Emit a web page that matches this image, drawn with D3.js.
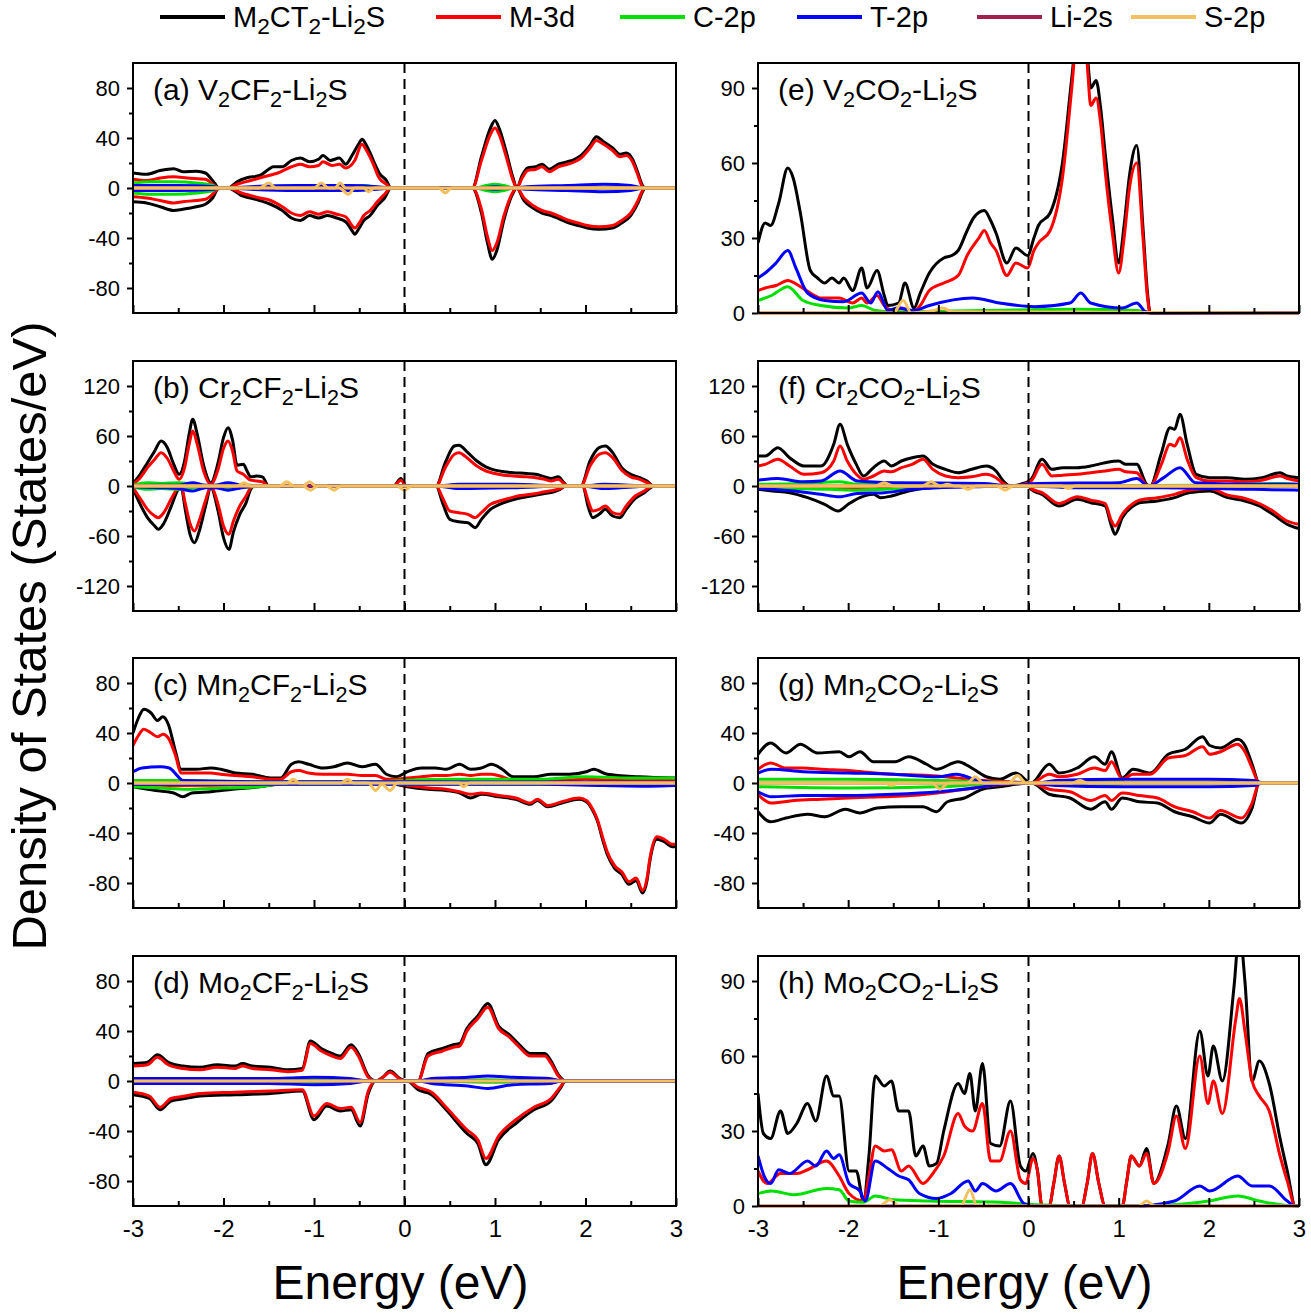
<!DOCTYPE html>
<html><head><meta charset="utf-8">
<script src="https://cdn.jsdelivr.net/npm/d3@7"></script>
<style>
body{margin:0;background:#fff}
svg{display:block}
text{font-family:"Liberation Sans",Arial,sans-serif;fill:#000}
</style></head>
<body><svg id="c" width="1311" height="1315"></svg>
<script>
// ---------- tick values ----------
const xTicks = [-3,-2,-1,0,1,2,3];
const xMinor = [-2.5,-1.5,-0.5,0.5,1.5,2.5];
const yTicks100 = [-80,-40,0,40,80];
const yMinor100 = [-60,-20,20,60];
const yTicks150 = [-120,-60,0,60,120];
const yMinor150 = [-90,-30,30,90];
const yTicksPos = [0,30,60,90];
const yMinorPos = [15,45,75];
const legendLabels = ['M_2CT_2-Li_2S','M-3d','C-2p','T-2p','Li-2s','S-2p'];
const panelLabels = ['(a) V_2CF_2-Li_2S','(b) Cr_2CF_2-Li_2S','(c) Mn_2CF_2-Li_2S','(d) Mo_2CF_2-Li_2S',
  '(e) V_2CO_2-Li_2S','(f) Cr_2CO_2-Li_2S','(g) Mn_2CO_2-Li_2S','(h) Mo_2CO_2-Li_2S'];

// ---------- data: [energy eV, DOS] ----------
const li2s = [[-3,0],[3,0]];

// (a) V2CF2-Li2S
const aTotUp = [[-3,12],[-2.85,11],[-2.7,14],[-2.55,15.5],[-2.45,13],[-2.3,13.5],[-2.2,12],[-2.1,4],[-2.05,0],[-1.95,0],[-1.85,5],[-1.75,8],[-1.6,10],[-1.5,15],[-1.45,17],[-1.35,17],[-1.25,22],[-1.15,24],[-1.05,21],[-0.95,23],[-0.9,26],[-0.82,22],[-0.72,24],[-0.65,19],[-0.58,26],[-0.5,36],[-0.47,39],[-0.42,34],[-0.38,28],[-0.32,18],[-0.28,12],[-0.2,6],[-0.15,0],[0.75,0],[0.85,25],[0.95,48],[1.0,54],[1.05,47],[1.12,30],[1.2,8],[1.24,0],[1.3,10],[1.36,16],[1.45,17],[1.52,19],[1.6,15],[1.7,19],[1.8,21],[1.88,23],[1.95,26],[2.05,34],[2.12,41],[2.2,37],[2.3,32],[2.38,27],[2.45,28],[2.52,23],[2.57,14],[2.63,2],[2.66,0],[3,0]];
const aMUp = [[-3,7],[-2.85,6],[-2.7,8],[-2.55,9],[-2.4,8],[-2.2,7],[-2.1,2],[-2.05,0],[-1.95,0],[-1.85,3],[-1.7,6],[-1.5,10],[-1.4,12],[-1.25,17],[-1.15,19],[-1.05,17],[-0.95,18],[-0.9,21],[-0.8,18],[-0.72,19],[-0.65,16],[-0.55,22],[-0.47,35],[-0.42,30],[-0.35,20],[-0.28,8],[-0.2,3],[-0.15,0],[0.75,0],[0.85,22],[0.95,43],[1.0,48],[1.05,42],[1.12,26],[1.2,6],[1.24,0],[1.3,8],[1.36,14],[1.45,15],[1.52,17],[1.6,13],[1.7,17],[1.8,19],[1.88,21],[1.95,24],[2.05,32],[2.12,38],[2.2,35],[2.3,30],[2.38,25],[2.45,26],[2.52,21],[2.57,12],[2.63,1],[2.66,0],[3,0]];
const aTotDn = [[-3,-11],[-2.85,-12],[-2.7,-15],[-2.55,-18],[-2.45,-17],[-2.3,-15],[-2.2,-13],[-2.12,-8],[-2.05,0],[-1.95,0],[-1.8,-6],[-1.6,-10],[-1.48,-13],[-1.35,-18],[-1.25,-24],[-1.15,-26],[-1.05,-22],[-0.95,-24],[-0.85,-22],[-0.75,-24],[-0.65,-27],[-0.58,-34],[-0.55,-37],[-0.5,-32],[-0.45,-26],[-0.38,-22],[-0.3,-14],[-0.22,-8],[-0.15,0],[0.75,0],[0.85,-20],[0.92,-45],[0.97,-57],[1.02,-50],[1.1,-25],[1.2,-4],[1.24,0],[1.32,-10],[1.42,-16],[1.52,-20],[1.62,-22],[1.72,-25],[1.82,-28],[1.92,-30],[2.02,-32],[2.15,-33],[2.3,-32],[2.4,-28],[2.5,-22],[2.58,-12],[2.63,-3],[2.66,0],[3,0]];
const aMDn = [[-3,-7],[-2.85,-8],[-2.7,-10],[-2.55,-12],[-2.45,-11],[-2.3,-10],[-2.2,-9],[-2.12,-5],[-2.05,0],[-1.95,0],[-1.8,-4],[-1.6,-8],[-1.48,-10],[-1.35,-15],[-1.25,-20],[-1.15,-22],[-1.05,-19],[-0.95,-21],[-0.85,-19],[-0.75,-21],[-0.65,-23],[-0.58,-30],[-0.55,-32],[-0.5,-28],[-0.45,-22],[-0.38,-18],[-0.3,-11],[-0.22,-5],[-0.15,0],[0.75,0],[0.85,-17],[0.92,-40],[0.97,-50],[1.02,-44],[1.1,-22],[1.2,-3],[1.24,0],[1.32,-8],[1.42,-14],[1.52,-18],[1.62,-20],[1.72,-23],[1.82,-26],[1.92,-28],[2.02,-30],[2.15,-31],[2.3,-30],[2.4,-26],[2.5,-20],[2.58,-10],[2.63,-2],[2.66,0],[3,0]];
const aCUp = [[-3,4],[-2.8,5],[-2.55,5],[-2.3,4],[-2.12,2],[-2.05,0],[-1.9,0],[-1.6,0.5],[-0.6,1],[-0.45,2],[-0.3,0.5],[-0.15,0],[0.78,0],[0.9,2],[1.0,3],[1.1,2],[1.22,0],[3,0]];
const aCDn = [[-3,-4],[-2.8,-5],[-2.55,-5],[-2.3,-4],[-2.12,-2],[-2.05,0],[-0.15,0],[0.78,0],[0.9,-2],[1.0,-3],[1.1,-2],[1.22,0],[3,0]];
const aTUp = [[-3,2],[-2.5,2],[-2.1,1],[-2.05,0],[-1.95,0],[-1.7,1],[-1.2,2],[-0.6,2],[-0.3,1],[-0.15,0],[0.78,0],[1.0,1],[1.22,0],[1.35,1],[1.8,2],[2.2,3],[2.5,2],[2.65,0],[3,0]];
const aTDn = [[-3,-2],[-2.5,-2],[-2.1,-1],[-2.05,0],[-1.95,0],[-1.7,-1],[-1.2,-2],[-0.6,-2],[-0.3,-1],[-0.15,0],[0.78,0],[1.0,-1],[1.22,0],[1.35,-1],[1.8,-2],[2.2,-3],[2.5,-2],[2.65,0],[3,0]];
const aSUp = [[-3,0],[-1.6,0],[-1.5,4],[-1.42,0],[-1.0,0],[-0.92,4],[-0.84,0],[-0.77,0],[-0.71,4],[-0.65,0],[3,0]];
const aSDn = [[-3,0],[-0.72,0],[-0.62,-5],[-0.55,0],[-0.45,0],[-0.4,-3],[-0.33,0],[0.38,0],[0.45,-4],[0.52,0],[3,0]];

// (b) Cr2CF2-Li2S
const bTotUp = [[-3,3],[-2.92,14],[-2.84,28],[-2.76,42],[-2.69,54],[-2.62,46],[-2.55,26],[-2.49,14],[-2.43,30],[-2.38,62],[-2.34,80],[-2.29,62],[-2.22,25],[-2.14,4],[-2.06,28],[-2.0,58],[-1.95,70],[-1.9,55],[-1.85,25],[-1.78,26],[-1.74,18],[-1.7,11],[-1.63,12],[-1.57,11],[-1.5,0],[-0.12,0],[-0.04,9],[0.02,0],[0.35,0],[0.45,28],[0.55,48],[0.6,49],[0.7,40],[0.8,30],[0.9,23],[1.0,19],[1.1,17],[1.2,16],[1.35,15],[1.45,14],[1.55,11],[1.62,9],[1.7,11],[1.76,4],[1.8,0],[1.95,0],[2.05,30],[2.15,46],[2.22,48],[2.3,40],[2.4,22],[2.5,14],[2.6,10],[2.68,6],[2.75,0],[3,0]];
const bMUp = [[-3,2],[-2.92,10],[-2.84,22],[-2.76,32],[-2.69,40],[-2.62,33],[-2.55,18],[-2.49,8],[-2.43,22],[-2.38,50],[-2.34,66],[-2.29,50],[-2.22,18],[-2.14,2],[-2.06,20],[-2.0,45],[-1.95,54],[-1.9,42],[-1.85,18],[-1.78,14],[-1.74,10],[-1.7,7],[-1.63,6],[-1.57,5],[-1.5,0],[-0.12,0],[-0.04,7],[0.02,0],[0.35,0],[0.45,22],[0.55,38],[0.6,40],[0.7,33],[0.8,24],[0.9,18],[1.0,15],[1.1,13],[1.2,12],[1.35,11],[1.45,10],[1.55,8],[1.62,6],[1.7,8],[1.76,3],[1.8,0],[1.95,0],[2.05,24],[2.15,38],[2.22,40],[2.3,34],[2.4,19],[2.5,11],[2.6,8],[2.68,4],[2.75,0],[3,0]];
const bTotDn = [[-3,-3],[-2.92,-22],[-2.84,-38],[-2.76,-48],[-2.72,-52],[-2.66,-45],[-2.58,-25],[-2.5,-4],[-2.47,-1],[-2.42,-30],[-2.37,-58],[-2.32,-68],[-2.27,-55],[-2.2,-25],[-2.14,-2],[-2.06,-30],[-2.0,-62],[-1.94,-76],[-1.89,-55],[-1.82,-34],[-1.75,-20],[-1.7,-4],[-1.66,0],[0.35,0],[0.42,-20],[0.5,-40],[0.6,-43],[0.7,-44],[0.78,-50],[0.85,-40],[0.95,-28],[1.05,-22],[1.15,-18],[1.25,-15],[1.4,-12],[1.55,-9],[1.65,-7],[1.72,-4],[1.78,0],[1.97,0],[2.03,-25],[2.08,-38],[2.15,-34],[2.22,-28],[2.3,-36],[2.38,-38],[2.45,-28],[2.55,-15],[2.65,-8],[2.72,-2],[2.75,0],[3,0]];
const bMDn = [[-3,-2],[-2.92,-15],[-2.84,-28],[-2.76,-36],[-2.72,-38],[-2.66,-32],[-2.58,-16],[-2.5,-2],[-2.47,0],[-2.42,-22],[-2.37,-45],[-2.32,-54],[-2.27,-42],[-2.2,-18],[-2.14,-1],[-2.06,-22],[-2.0,-48],[-1.94,-58],[-1.89,-42],[-1.82,-24],[-1.75,-12],[-1.7,-2],[-1.66,0],[0.35,0],[0.42,-14],[0.5,-30],[0.6,-32],[0.7,-34],[0.78,-38],[0.85,-32],[0.95,-22],[1.05,-18],[1.15,-15],[1.25,-12],[1.4,-10],[1.55,-7],[1.65,-5],[1.72,-3],[1.78,0],[1.97,0],[2.03,-18],[2.08,-30],[2.15,-28],[2.22,-24],[2.3,-32],[2.38,-34],[2.45,-24],[2.55,-12],[2.65,-6],[2.72,-1],[2.75,0],[3,0]];
const bCUp = [[-3,1],[-2.84,4],[-2.69,3],[-2.49,4],[-2.34,2],[-2.14,0.5],[-1.95,2],[-1.7,1],[-1.55,0],[0.35,0],[0.6,1],[1.2,1],[1.78,0],[1.97,0],[2.2,1],[2.75,0],[3,0]];
const bCDn = [[-3,-1],[-2.84,-4],[-2.69,-3],[-2.49,-4],[-2.34,-2],[-2.14,-0.5],[-1.95,-2],[-1.7,-1],[-1.55,0],[0.35,0],[0.6,-1],[1.2,-1],[1.78,0],[1.97,0],[2.2,-1],[2.75,0],[3,0]];
const bTUp = [[-3,0.5],[-2.7,1],[-2.5,1],[-2.34,4],[-2.2,1],[-2.1,1],[-1.95,4],[-1.8,1],[-1.55,0],[0.35,0],[0.6,2],[1.2,2],[1.78,0],[1.97,0],[2.2,2],[2.75,0],[3,0]];
const bTDn = [[-3,-1],[-2.7,-2],[-2.5,-3],[-2.34,-6],[-2.2,-2],[-2.1,-2],[-1.95,-5],[-1.8,-2],[-1.55,0],[0.35,0],[0.6,-3],[1.2,-2],[1.78,0],[1.97,0],[2.2,-3],[2.75,0],[3,0]];
const bSUp = [[-3,0],[-1.85,0],[-1.77,4],[-1.7,0],[-1.38,0],[-1.3,5],[-1.22,0],[-1.12,0],[-1.05,5],[-0.98,0],[3,0]];
const bSDn = [[-3,0],[-1.12,0],[-1.04,-5],[-0.96,0],[-0.86,0],[-0.78,-5],[-0.7,0],[-0.08,0],[0.0,-5],[0.08,0],[3,0]];

// (c) Mn2CF2-Li2S
const cTotUp = [[-3,40],[-2.94,52],[-2.88,59],[-2.8,56],[-2.73,50],[-2.67,53],[-2.61,47],[-2.53,25],[-2.47,11],[-2.3,11],[-2.14,12],[-2.03,11],[-1.87,8],[-1.68,7],[-1.48,4],[-1.37,4],[-1.25,15],[-1.17,17],[-1.06,15],[-0.9,12],[-0.78,13],[-0.63,16],[-0.47,13],[-0.32,15],[-0.2,7],[-0.09,5],[0.03,9],[0.19,12],[0.34,12],[0.46,11],[0.61,15],[0.73,11],[0.85,12],[0.96,15],[1.08,11],[1.2,5],[1.43,5],[1.62,7],[1.82,7],[2.01,9],[2.09,11],[2.24,7],[2.59,5],[3,4]];
const cMUp = [[-3,30],[-2.94,38],[-2.88,43],[-2.8,40],[-2.73,37],[-2.67,39],[-2.61,36],[-2.53,22],[-2.47,8],[-2.3,8],[-2.14,8],[-2.03,7],[-1.87,6],[-1.68,5],[-1.48,3],[-1.37,3],[-1.25,9],[-1.17,10],[-1.06,8],[-0.9,7],[-0.78,7],[-0.63,7],[-0.47,6],[-0.32,6],[-0.2,3],[-0.09,3],[0.03,4],[0.19,5],[0.34,6],[0.46,6],[0.61,7],[0.73,6],[0.85,7],[0.96,7],[1.08,5],[1.2,2],[1.6,2],[2.0,3],[2.5,2],[3,2]];
const cTotDn = [[-3,-3],[-2.75,-6],[-2.55,-8],[-2.45,-11],[-2.35,-8],[-2.14,-7],[-1.9,-5],[-1.6,-3],[-1.4,-1],[-1.3,0],[-0.2,0],[0.03,-3],[0.26,-5],[0.46,-6],[0.61,-8],[0.73,-12],[0.85,-9],[1.04,-11],[1.23,-13],[1.39,-17],[1.47,-14],[1.58,-19],[1.74,-16],[1.93,-13],[2.01,-15],[2.08,-22],[2.13,-30],[2.2,-48],[2.24,-57],[2.32,-68],[2.4,-73],[2.48,-81],[2.56,-78],[2.63,-88],[2.68,-78],[2.71,-63],[2.79,-45],[2.87,-47],[2.96,-51],[3,-51]];
const cMDn = [[-3,-1],[-2.5,-2],[-1.5,-1],[-1.3,0],[-0.2,0],[0.03,-2],[0.26,-4],[0.46,-5],[0.61,-7],[0.73,-9],[0.85,-8],[1.04,-10],[1.23,-12],[1.39,-16],[1.47,-13],[1.58,-18],[1.74,-15],[1.93,-12],[2.01,-14],[2.08,-21],[2.13,-29],[2.2,-46],[2.24,-55],[2.32,-66],[2.4,-71],[2.48,-79],[2.56,-76],[2.63,-86],[2.68,-76],[2.71,-61],[2.79,-43],[2.87,-45],[2.96,-49],[3,-49]];
const cCUp = [[-3,2],[-2.5,2],[-1.5,1],[-0.3,1],[0,2],[0.5,3],[1.5,3],[2.0,5],[2.5,4],[3,4]];
const cCDn = [[-3,-3],[-2.7,-4],[-2.4,-5],[-2.0,-4],[-1.6,-3],[-1.4,-1],[0,-1],[3,-1]];
const cTUp = [[-3,9],[-2.9,12],[-2.7,13],[-2.6,12],[-2.5,5],[-2.45,2],[-1.5,1],[0,1],[3,0.5]];
const cTDn = [[-3,-1],[0,-1],[1.5,-1],[2.2,-2],[2.7,-2.5],[3,-2]];
const cSUp = [[-3,0],[-1.3,0],[-1.23,3],[-1.16,0],[-0.7,0],[-0.63,3],[-0.56,0],[3,0]];
const cSDn = [[-3,0],[-0.4,0],[-0.32,-6],[-0.25,-1],[-0.16,-6],[-0.08,0],[0.6,0],[0.65,-3],[0.72,0],[3,0]];

// (d) Mo2CF2-Li2S
const dTotUp = [[-3,14],[-2.84,15],[-2.73,21],[-2.61,15],[-2.45,12],[-2.26,11],[-2.07,13],[-1.87,12],[-1.79,14],[-1.68,12],[-1.48,11],[-1.29,9],[-1.13,10],[-1.04,32],[-0.92,26],[-0.8,22],[-0.71,20],[-0.59,29],[-0.51,22],[-0.4,4],[-0.32,0],[-0.24,3],[-0.16,8],[-0.05,2],[0.03,0],[0.15,0],[0.26,22],[0.42,26],[0.54,29],[0.61,30],[0.69,42],[0.81,52],[0.92,62],[1.04,44],[1.16,37],[1.27,29],[1.39,22],[1.55,22],[1.62,16],[1.7,5],[1.78,0],[3,0]];
const dMUp = [[-3,12],[-2.84,13],[-2.73,19],[-2.61,13],[-2.45,10],[-2.26,9],[-2.07,11],[-1.87,10],[-1.79,12],[-1.68,10],[-1.48,9],[-1.29,7.5],[-1.13,8.5],[-1.04,30],[-0.92,24],[-0.8,20],[-0.71,18],[-0.59,27],[-0.51,20],[-0.4,3],[-0.32,0],[-0.24,3],[-0.16,7],[-0.05,1.5],[0.03,0],[0.15,0],[0.26,20],[0.42,24],[0.54,27],[0.61,28],[0.69,40],[0.81,50],[0.92,59],[1.04,42],[1.16,35],[1.27,27],[1.39,20],[1.55,20],[1.62,14],[1.7,4],[1.78,0],[3,0]];
const dTotDn = [[-3,-11],[-2.82,-14],[-2.7,-23],[-2.58,-16],[-2.42,-14],[-2.26,-12],[-1.87,-11],[-1.48,-10],[-1.13,-8],[-1.0,-31],[-0.86,-20],[-0.71,-24],[-0.59,-23],[-0.49,-36],[-0.4,-10],[-0.32,0],[0.03,0],[0.15,-7],[0.3,-11],[0.46,-23],[0.69,-42],[0.81,-50],[0.9,-67],[1.04,-47],[1.23,-34],[1.43,-23],[1.62,-16],[1.72,-6],[1.78,0],[3,0]];
const dMDn = [[-3,-9],[-2.82,-12],[-2.7,-21],[-2.58,-14],[-2.42,-12],[-2.26,-10],[-1.87,-9],[-1.48,-8],[-1.13,-7],[-1.0,-28],[-0.86,-18],[-0.71,-22],[-0.59,-21],[-0.49,-33],[-0.4,-8],[-0.32,0],[0.03,0],[0.15,-5],[0.3,-9],[0.46,-21],[0.69,-39],[0.81,-47],[0.9,-62],[1.04,-44],[1.23,-31],[1.43,-21],[1.62,-14],[1.72,-5],[1.78,0],[3,0]];
const dCUp = [[-3,1],[-1,1],[-0.4,0],[0.2,0],[0.9,1],[1.7,0],[3,0]];
const dCDn = [[-3,-1],[-1,-1],[-0.4,0],[0.2,0],[0.9,-1],[1.7,0],[3,0]];
const dTUp = [[-3,2],[-2.5,2],[-1.5,2],[-1.0,3],[-0.6,2],[-0.4,0],[0.15,0],[0.3,2],[0.7,3],[0.92,4],[1.2,3],[1.6,2],[1.75,0],[3,0]];
const dTDn = [[-3,-2],[-2.5,-2],[-1.5,-2],[-1.0,-3],[-0.6,-2],[-0.4,0],[0.15,0],[0.3,-2],[0.7,-4],[0.92,-6],[1.2,-3],[1.6,-2],[1.75,0],[3,0]];
const dS = [[-3,0],[3,0]];

// (e) V2CO2-Li2S
const eTot = [[-3,28],[-2.92,36],[-2.86,35],[-2.77,44],[-2.67,58],[-2.61,54],[-2.53,40],[-2.42,17],[-2.34,14],[-2.26,12],[-2.18,14],[-2.1,12],[-2.05,14],[-1.95,9],[-1.85,18],[-1.79,10],[-1.68,17],[-1.6,7],[-1.56,3],[-1.44,4],[-1.37,12],[-1.27,2],[-1.2,8],[-1.1,16],[-0.94,22],[-0.85,23],[-0.78,25],[-0.68,33],[-0.61,38],[-0.49,41],[-0.42,37],[-0.36,32],[-0.24,20],[-0.14,26],[-0.01,23],[0.06,30],[0.11,35],[0.24,40],[0.38,61],[0.48,94],[0.55,115],[0.62,115],[0.66,100],[0.69,90],[0.75,93],[0.8,82],[0.85,64],[0.93,38],[1.0,20],[1.06,35],[1.12,55],[1.2,67],[1.27,34],[1.32,8],[1.35,0],[3,0]];
const eM = [[-3,9],[-2.92,10],[-2.8,11],[-2.67,13],[-2.55,11],[-2.42,8],[-2.3,6],[-2.1,6],[-1.95,4],[-1.85,6],[-1.79,4],[-1.68,7],[-1.6,3],[-1.5,1],[-1.4,2],[-1.3,0],[-1.2,3],[-1.1,9],[-0.94,12],[-0.78,15],[-0.68,23],[-0.55,30],[-0.49,33],[-0.42,28],[-0.36,25],[-0.24,15],[-0.14,20],[-0.01,18],[0.06,25],[0.11,28],[0.24,33],[0.38,55],[0.48,90],[0.55,115],[0.62,115],[0.66,95],[0.69,83],[0.75,86],[0.8,76],[0.85,57],[0.93,32],[1.0,16],[1.06,30],[1.12,50],[1.2,60],[1.27,30],[1.32,6],[1.35,0],[3,0]];
const eC = [[-3,5],[-2.85,7],[-2.67,10.5],[-2.5,5],[-2.3,3],[-2.0,2],[-1.85,3],[-1.7,1],[-1.5,0.5],[-0.5,1],[0.5,1.5],[1.2,1],[1.35,0],[3,0]];
const eT = [[-3,14],[-2.92,16],[-2.8,20],[-2.67,25],[-2.58,18],[-2.45,8],[-2.26,5],[-2.05,4.5],[-1.85,8],[-1.75,4],[-1.67,8.5],[-1.56,1],[-1.45,2],[-1.27,1],[-1.1,3],[-0.62,6],[-0.32,4],[0.07,2.5],[0.46,4],[0.58,8],[0.69,4],[1.04,2],[1.2,4],[1.3,0.5],[1.4,0],[3,0]];
const eS = [[-3,0],[-1.5,0],[-1.39,5],[-1.3,0],[-1.05,1],[-0.95,2],[-0.85,0.5],[3,0]];

// (f) Cr2CO2-Li2S
const fTotUp = [[-3,36],[-2.92,36],[-2.78,46],[-2.65,34],[-2.49,24],[-2.3,24],[-2.16,50],[-2.09,74],[-2.01,50],[-1.91,26],[-1.83,12],[-1.72,22],[-1.6,30],[-1.52,24],[-1.41,30],[-1.29,34],[-1.17,36],[-1.06,26],[-0.92,20],[-0.78,16],[-0.63,20],[-0.47,24],[-0.36,18],[-0.28,6],[-0.2,0],[-0.09,2],[0.03,8],[0.15,32],[0.26,20],[0.38,22],[0.54,22],[0.69,24],[0.85,28],[1.0,30],[1.08,26],[1.2,26],[1.31,2],[1.35,0],[1.47,38],[1.57,70],[1.62,68],[1.68,86],[1.76,50],[1.86,14],[2.01,10],[2.21,10],[2.4,8],[2.59,10],[2.79,16],[2.87,12],[3,10]];
const fMUp = [[-3,24],[-2.92,26],[-2.78,32],[-2.65,24],[-2.49,14],[-2.3,16],[-2.16,30],[-2.09,48],[-2.01,30],[-1.91,14],[-1.83,8],[-1.72,12],[-1.6,18],[-1.52,17],[-1.41,22],[-1.29,26],[-1.17,32],[-1.06,20],[-0.92,12],[-0.78,10],[-0.63,11],[-0.47,14],[-0.36,10],[-0.28,3],[-0.2,0],[-0.09,1],[0.03,6],[0.15,26],[0.26,12],[0.38,13],[0.54,14],[0.69,16],[0.85,18],[1.0,20],[1.08,17],[1.2,16],[1.31,1],[1.35,0],[1.47,25],[1.57,50],[1.62,48],[1.68,58],[1.76,32],[1.86,10],[2.01,6],[2.21,6],[2.4,5],[2.59,7],[2.79,12],[2.87,9],[3,6]];
const fTotDn = [[-3,-4],[-2.84,-6],[-2.65,-8],[-2.45,-14],[-2.26,-22],[-2.11,-30],[-2.0,-22],[-1.87,-14],[-1.72,-10],[-1.64,-14],[-1.52,-12],[-1.33,-6],[-1.1,-2],[-0.7,0],[0.0,0],[0.03,-4],[0.15,-10],[0.34,-24],[0.54,-16],[0.69,-20],[0.85,-24],[0.92,-48],[0.96,-58],[1.04,-38],[1.16,-24],[1.23,-20],[1.43,-18],[1.62,-14],[1.78,-8],[2.01,-6],[2.21,-14],[2.4,-18],[2.56,-24],[2.71,-34],[2.87,-46],[3,-51]];
const fMDn = [[-3,-1],[-2.2,-3],[-2.0,-2],[-1.5,-1],[-0.7,0],[0.0,0],[0.03,-3],[0.15,-8],[0.34,-21],[0.54,-13],[0.69,-17],[0.85,-21],[0.92,-42],[0.96,-48],[1.04,-34],[1.16,-21],[1.23,-17],[1.43,-14],[1.62,-10],[1.78,-5],[2.01,-3],[2.21,-11],[2.4,-15],[2.56,-21],[2.71,-30],[2.87,-42],[3,-46]];
const fCUp = [[-3,2],[-2.5,3],[-2.1,5],[-1.9,2],[-1.5,2],[-1,1],[-0.3,0],[0,0],[2,1],[2.8,3],[3,2]];
const fCDn = [[-3,-1],[-2.6,-3],[-2.2,-4],[-1.9,-5],[-1.6,-4],[-1.2,-2],[-0.6,0],[3,0]];
const fTUp = [[-3,7],[-2.78,9],[-2.5,5],[-2.3,6],[-2.09,18],[-1.9,6],[-1.5,4],[-0.5,3],[-0.2,0],[0.1,3],[1.0,4],[1.2,9],[1.33,0],[1.5,10],[1.68,22],[1.85,4],[2.5,2],[3,2]];
const fTDn = [[-3,-3],[-2.6,-6],[-2.3,-10],[-2.1,-13],[-1.9,-9],[-1.6,-8],[-1.3,-4],[-1,-2],[-0.6,-1],[0,0],[0.5,-2],[1.5,-2],[2.5,-4],[3,-5]];
const fSUp = [[-3,0],[-1.7,0],[-1.6,4],[-1.5,0],[-1.18,0],[-1.08,5],[-0.98,0],[-0.9,2],[-0.82,0],[3,0]];
const fSDn = [[-3,0],[-0.76,0],[-0.67,-4],[-0.58,0],[-0.35,0],[-0.26,-5],[-0.17,0],[0.36,0],[0.44,-3],[0.52,0],[3,0]];

// (g) Mn2CO2-Li2S
const gTotUp = [[-3,23],[-2.86,32],[-2.69,24],[-2.53,31],[-2.34,24],[-2.1,25],[-1.99,21],[-1.87,25],[-1.72,17],[-1.48,17],[-1.33,21],[-1.13,15],[-1.02,11],[-0.78,17],[-0.63,12],[-0.47,5],[-0.32,3],[-0.14,8],[0.03,0],[0.23,15],[0.34,8],[0.54,12],[0.73,21],[0.85,15],[0.92,25],[1.04,4],[1.16,11],[1.35,8],[1.55,23],[1.74,27],[1.93,37],[2.01,30],[2.13,28],[2.32,35],[2.4,30],[2.48,15],[2.56,0],[3,0]];
const gMUp = [[-3,11],[-2.86,16],[-2.69,12],[-2.5,12],[-2.3,11],[-2.0,10],[-1.85,9],[-1.5,7],[-1.1,6],[-0.8,4],[-0.5,2],[-0.2,1],[0.03,0],[0.23,7],[0.34,5],[0.54,7],[0.73,12],[0.85,10],[0.92,17],[1.04,3],[1.16,7],[1.35,7],[1.55,20],[1.74,22],[1.93,29],[2.01,23],[2.13,25],[2.32,31],[2.4,25],[2.48,12],[2.56,0],[3,0]];
const gTotDn = [[-3,-23],[-2.86,-31],[-2.69,-28],[-2.45,-25],[-2.26,-27],[-2.03,-21],[-1.87,-24],[-1.68,-20],[-1.41,-19],[-1.17,-19],[-1.02,-23],[-0.9,-15],[-0.71,-12],[-0.51,-5],[-0.32,-3],[0.03,0],[0.23,-9],[0.46,-12],[0.69,-21],[0.85,-15],[0.92,-21],[1.04,-12],[1.23,-15],[1.43,-16],[1.62,-23],[1.82,-27],[2.01,-32],[2.13,-25],[2.36,-32],[2.48,-20],[2.56,0],[3,0]];
const gMDn = [[-3,-9],[-2.86,-16],[-2.6,-14],[-2.3,-13],[-2.0,-12],[-1.6,-11],[-1.3,-10],[-0.9,-7],[-0.7,-5],[-0.4,-2],[0.03,0],[0.23,-5],[0.46,-7],[0.69,-14],[0.85,-10],[0.92,-14],[1.04,-8],[1.23,-10],[1.43,-12],[1.62,-19],[1.82,-23],[2.01,-28],[2.13,-22],[2.36,-28],[2.48,-16],[2.56,0],[3,0]];
const gCUp = [[-3,3],[-2,3],[-1,2],[-0.5,1],[0,0],[0.5,1],[1.0,1],[1.1,0],[3,0]];
const gCDn = [[-3,-3],[-2,-4],[-1,-3],[-0.5,-1],[0,0],[0.5,-1],[1.0,-1],[1.1,0],[3,0]];
const gTUp = [[-3,8],[-2.85,11],[-2.5,9],[-2.0,8],[-1.5,7],[-1.0,5],[-0.8,7],[-0.6,3],[-0.3,0],[0.1,0],[0.3,2],[1.0,3],[2.0,3],[2.5,2],[2.6,0],[3,0]];
const gTDn = [[-3,-7],[-2.85,-11],[-2.5,-10],[-2.0,-10],[-1.5,-9],[-1.0,-7],[-0.6,-4],[-0.3,-1],[0,0],[0.3,-2],[1.0,-3],[2.0,-3],[2.5,-2],[2.6,0],[3,0]];
const gSUp = [[-3,0],[-0.68,0],[-0.59,5],[-0.5,0],[-0.22,0],[-0.12,6],[-0.03,0],[0.48,0],[0.57,2],[0.66,0],[3,0]];
const gSDn = [[-3,0],[-1.6,0],[-1.52,-2],[-1.44,0],[-1.07,0],[-0.98,-5],[-0.89,0],[3,0]];

// (h) Mo2CO2-Li2S
const hTot = [[-3,45],[-2.94,29],[-2.86,27],[-2.75,38],[-2.67,29],[-2.57,33],[-2.45,41],[-2.36,34],[-2.24,52],[-2.16,44],[-2.1,44],[-1.99,14],[-1.91,14],[-1.83,2],[-1.77,20],[-1.7,52],[-1.6,48],[-1.52,50],[-1.44,38],[-1.33,38],[-1.25,20],[-1.17,24],[-1.1,16],[-1.02,17],[-0.94,30],[-0.78,49],[-0.71,45],[-0.65,53],[-0.59,38],[-0.51,57],[-0.42,25],[-0.32,24],[-0.2,42],[-0.09,16],[-0.03,14],[0.05,21],[0.1,14],[0.15,0],[0.23,0],[0.28,9],[0.34,20],[0.4,9],[0.46,0],[0.59,0],[0.65,9],[0.71,21],[0.78,9],[0.85,0],[1.04,0],[1.09,10],[1.14,20],[1.23,16],[1.31,23],[1.39,9],[1.55,25],[1.64,40],[1.74,27],[1.9,70],[1.99,52],[2.05,64],[2.15,50],[2.28,88],[2.34,110],[2.4,90],[2.48,50],[2.56,58],[2.67,49],[2.79,27],[2.87,14],[2.96,0],[3,0]];
const hM = [[-3,14],[-2.9,9],[-2.75,13],[-2.57,13],[-2.45,14.5],[-2.24,18],[-2.1,12],[-1.99,5],[-1.83,2],[-1.77,12],[-1.7,24],[-1.6,22],[-1.52,22.5],[-1.41,14],[-1.33,16],[-1.17,9],[-1.06,13],[-0.94,20],[-0.78,37],[-0.71,32],[-0.62,30],[-0.51,41],[-0.42,18],[-0.32,18],[-0.2,30],[-0.09,10.5],[-0.03,9],[0.05,19],[0.1,14],[0.15,0],[0.23,0],[0.28,9],[0.34,20],[0.4,9],[0.46,0],[0.59,0],[0.65,9],[0.71,21],[0.78,9],[0.85,0],[1.04,0],[1.09,10],[1.14,20],[1.23,16],[1.31,21],[1.39,9],[1.55,22],[1.64,36],[1.74,23],[1.9,60],[1.99,41],[2.05,50],[2.15,37],[2.3,75],[2.34,83],[2.4,70],[2.48,50],[2.56,44],[2.67,38],[2.79,20],[2.87,10],[2.96,0],[3,0]];
const hC = [[-3,5],[-2.85,6],[-2.6,4.5],[-2.24,7],[-2.1,6.5],[-1.99,2],[-1.83,1.5],[-1.7,4],[-1.5,2.5],[-1.1,2],[-0.3,1.5],[0.07,0.5],[0.8,0],[1.6,0.5],[2.0,2],[2.32,4],[2.56,2],[2.96,0],[3,0]];
const hT = [[-3,20],[-2.92,11],[-2.86,9],[-2.77,14.5],[-2.65,13],[-2.45,18],[-2.36,16],[-2.24,22],[-2.16,19],[-2.1,20.5],[-1.99,9],[-1.87,6],[-1.81,2],[-1.7,18],[-1.56,15],[-1.44,12],[-1.33,10.5],[-1.21,5],[-1.02,3],[-0.86,5],[-0.67,10],[-0.59,6],[-0.51,9],[-0.36,6],[-0.2,9],[-0.05,1],[0.07,0],[1.2,0],[1.62,2],[1.9,8],[2.01,6],[2.32,12],[2.48,8],[2.67,8],[2.87,2],[2.96,0],[3,0]];
const hS = [[-3,0],[-1.65,0],[-1.54,2.5],[-1.43,0],[-0.75,0],[-0.65,6.5],[-0.57,0],[1.22,0],[1.31,2],[1.4,0],[3,0]];

// ---------- styling ----------
const COLORS = {tot:'#000000', m:'#ff0000', c:'#00e000', t:'#0000ff', li:'#a3204e', s:'#f2c05e'};
const legendKeys = ['tot','m','c','t','li','s'];

const panels = [
 {lab:0,col:0,row:0,dom:[-100,100],maj:yTicks100,min:yMinor100,
  ser:[[aTotUp,'tot'],[aTotDn,'tot'],[aMUp,'m'],[aMDn,'m'],[aCUp,'c'],[aCDn,'c'],[aTUp,'t'],[aTDn,'t'],[li2s,'li'],[aSUp,'s'],[aSDn,'s']]},
 {lab:1,col:0,row:1,dom:[-150,150],maj:yTicks150,min:yMinor150,
  ser:[[bTotUp,'tot'],[bTotDn,'tot'],[bMUp,'m'],[bMDn,'m'],[bCUp,'c'],[bCDn,'c'],[bTUp,'t'],[bTDn,'t'],[li2s,'li'],[bSUp,'s'],[bSDn,'s']]},
 {lab:2,col:0,row:2,dom:[-100,100],maj:yTicks100,min:yMinor100,
  ser:[[cTotUp,'tot'],[cTotDn,'tot'],[cMUp,'m'],[cMDn,'m'],[cCUp,'c'],[cCDn,'c'],[cTUp,'t'],[cTDn,'t'],[li2s,'li'],[cSUp,'s'],[cSDn,'s']]},
 {lab:3,col:0,row:3,dom:[-100,100],maj:yTicks100,min:yMinor100,
  ser:[[dTotUp,'tot'],[dTotDn,'tot'],[dMUp,'m'],[dMDn,'m'],[dCUp,'c'],[dCDn,'c'],[dTUp,'t'],[dTDn,'t'],[li2s,'li'],[dS,'s']]},
 {lab:4,col:1,row:0,dom:[0,100],maj:yTicksPos,min:yMinorPos,
  ser:[[eTot,'tot'],[eM,'m'],[eC,'c'],[eT,'t'],[li2s,'li'],[eS,'s']]},
 {lab:5,col:1,row:1,dom:[-150,150],maj:yTicks150,min:yMinor150,
  ser:[[fTotUp,'tot'],[fTotDn,'tot'],[fMUp,'m'],[fMDn,'m'],[fCUp,'c'],[fCDn,'c'],[fTUp,'t'],[fTDn,'t'],[li2s,'li'],[fSUp,'s'],[fSDn,'s']]},
 {lab:6,col:1,row:2,dom:[-100,100],maj:yTicks100,min:yMinor100,
  ser:[[gTotUp,'tot'],[gTotDn,'tot'],[gMUp,'m'],[gMDn,'m'],[gCUp,'c'],[gCDn,'c'],[gTUp,'t'],[gTDn,'t'],[li2s,'li'],[gSUp,'s'],[gSDn,'s']]},
 {lab:7,col:1,row:3,dom:[0,100],maj:yTicksPos,min:yMinorPos,
  ser:[[hTot,'tot'],[hM,'m'],[hC,'c'],[hT,'t'],[li2s,'li'],[hS,'s']]}
];

const cols = [{x0:133,x1:676},{x0:758,x1:1299}];
const rows = [{y0:63,y1:313},{y0:361,y1:611},{y0:658,y1:908},{y0:956,y1:1206}];

const svg = d3.select('#c');

function rich(sel, s, F, sc){
  const parts = s.split(/(_\d)/).filter(p=>p.length);
  let prevSub = false;
  parts.forEach(p=>{
    if(p[0]==='_'){
      sel.append('tspan').attr('font-size',(F*sc)+'px').attr('dy',(F*0.24)+'px').text(p.slice(1));
      prevSub = true;
    } else {
      const t = sel.append('tspan').text(p);
      if(prevSub) t.attr('dy',(-F*0.24)+'px');
      prevSub = false;
    }
  });
}

// ---------- legend ----------
const legX = [160,436,620,797,977,1131];
legendLabels.forEach((lab,i)=>{
  const g = svg.append('g');
  g.append('line').attr('x1',legX[i]).attr('x2',legX[i]+65).attr('y1',17).attr('y2',17)
    .attr('stroke',COLORS[legendKeys[i]]).attr('stroke-width',4);
  const t = g.append('text').attr('x',legX[i]+73).attr('y',27).attr('font-size','29px');
  rich(t, lab, 29, 0.78);
});

// ---------- panels ----------
panels.forEach((p,pi)=>{
  const c = cols[p.col], r = rows[p.row];
  const x = d3.scaleLinear().domain([-3,3]).range([c.x0,c.x1]);
  const y = d3.scaleLinear().domain(p.dom).range([r.y1,r.y0]);
  const g = svg.append('g');
  const cid = 'clip'+pi;
  svg.append('clipPath').attr('id',cid).append('rect')
    .attr('x',c.x0).attr('y',r.y0).attr('width',c.x1-c.x0).attr('height',r.y1-r.y0+2);
  const line = d3.line().x(d=>x(d[0])).y(d=>y(d[1])).curve(d3.curveMonotoneX);
  const plot = g.append('g').attr('clip-path','url(#'+cid+')');
  p.ser.forEach(([arr,key])=>{
    plot.append('path').datum(arr).attr('d',line).attr('fill','none')
      .attr('stroke',COLORS[key]).attr('stroke-width',3).attr('stroke-linejoin','round');
  });
  // Fermi level
  g.append('line').attr('x1',x(0)).attr('x2',x(0)).attr('y1',r.y0).attr('y2',r.y1)
    .attr('stroke','#000').attr('stroke-width',2).attr('stroke-dasharray','10,6');
  // y axis
  const ya = g.append('g').attr('transform','translate('+c.x0+',0)')
    .call(d3.axisLeft(y).tickValues(p.maj).tickSize(6).tickPadding(7).tickFormat(d=>String(d)));
  ya.selectAll('text').attr('font-size','22px').attr('font-family','"Liberation Sans",Arial,sans-serif');
  const ym = g.append('g').attr('transform','translate('+c.x0+',0)')
    .call(d3.axisLeft(y).tickValues(p.min).tickSize(4).tickFormat(''));
  // x axis
  const bottom = p.row===3;
  const xa = g.append('g').attr('transform','translate(0,'+r.y1+')')
    .call(d3.axisBottom(x).tickValues(xTicks).tickSize(-8).tickPadding(14)
      .tickFormat(bottom ? (d=>String(d)) : ''));
  xa.selectAll('text').attr('font-size','24px').attr('font-family','"Liberation Sans",Arial,sans-serif');
  const xm = g.append('g').attr('transform','translate(0,'+r.y1+')')
    .call(d3.axisBottom(x).tickValues(xMinor).tickSize(-5).tickFormat(''));
  [ya,ym,xa,xm].forEach(a=>{a.select('.domain').remove(); a.selectAll('line').attr('stroke-width',2);});
  // frame
  g.append('rect').attr('x',c.x0).attr('y',r.y0).attr('width',c.x1-c.x0).attr('height',r.y1-r.y0)
    .attr('fill','none').attr('stroke','#000').attr('stroke-width',2);
  // label
  const t = g.append('text').attr('x',c.x0+20).attr('y',r.y0+37).attr('font-size','30px');
  rich(t, panelLabels[p.lab], 30, 0.72);
  if(bottom){
    g.append('text').attr('x',(c.x0+c.x1)/2-4).attr('y',1299).attr('text-anchor','middle')
      .attr('font-size','48px').text('Energy (eV)');
  }
});

// y title
svg.append('text').attr('transform','translate(46,636) rotate(-90)').attr('text-anchor','middle')
  .attr('font-size','49px').text('Density of States (States/eV)');
</script>
</body></html>
